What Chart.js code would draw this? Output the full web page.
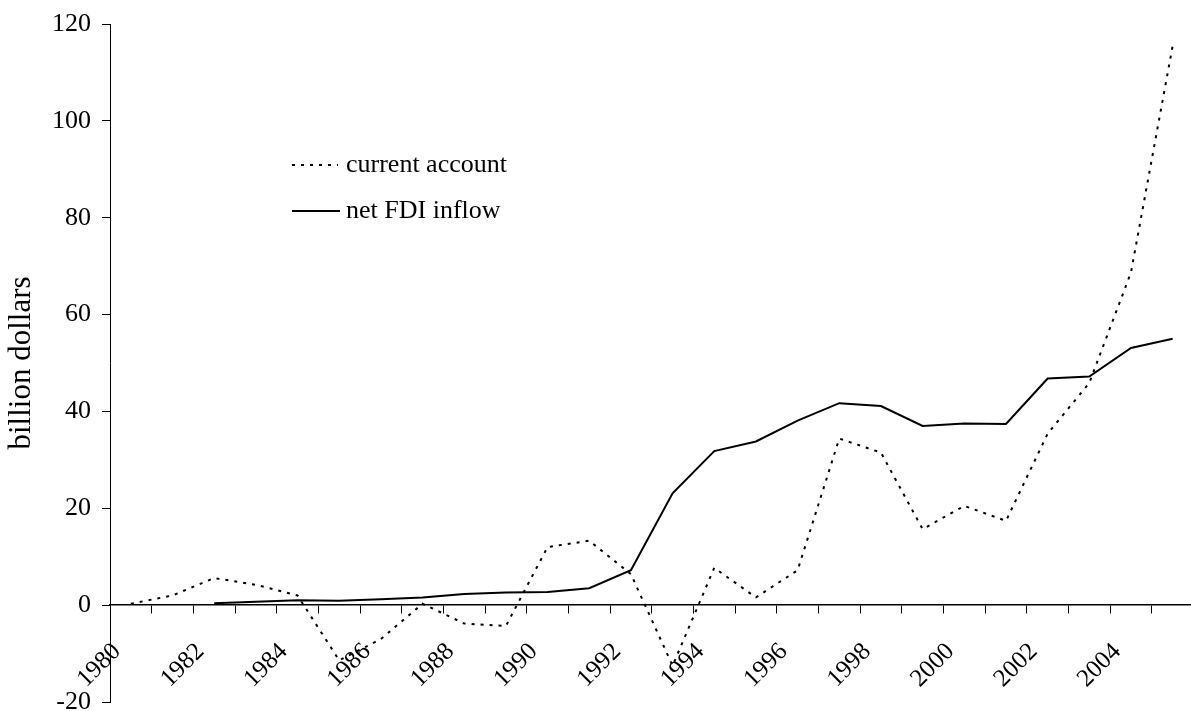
<!DOCTYPE html>
<html>
<head>
<meta charset="utf-8">
<script src="https://cdn.jsdelivr.net/npm/chart.js@4.4.1/dist/chart.umd.min.js"></script>
<style>
  html, body { margin: 0; padding: 0; background: #ffffff; }
  #wrap { width: 1191px; height: 711px; position: relative; }
</style>
</head>
<body>
<div id="wrap"><canvas id="c" width="1191" height="711"></canvas></div>
<script>
// ---- data ----
const years = [1980, 1981, 1982, 1983, 1984, 1985, 1986, 1987, 1988, 1989, 1990, 1991, 1992,
               1993, 1994, 1995, 1996, 1997, 1998, 1999, 2000, 2001, 2002, 2003, 2004, 2005];
const currentAccount = [0.3, 2.0, 5.6, 4.2, 2.0, -11.4, -7.0, 0.3, -3.8, -4.3, 12.0, 13.3, 6.4,
                        -12.5, 7.7, 1.6, 7.2, 34.4, 31.5, 15.7, 20.5, 17.4, 35.4, 45.9, 68.7, 115.5];
const netFDI = [null, null, 0.4, 0.7, 1.0, 0.9, 1.2, 1.6, 2.3, 2.6, 2.7, 3.5, 7.2,
                23.1, 31.8, 33.8, 38.1, 41.7, 41.1, 37.0, 37.5, 37.4, 46.8, 47.2, 53.1, 55.0];
const seriesLabels = ['current account', 'net FDI inflow'];
const yTicks = [-20, 0, 20, 40, 60, 80, 100, 120];
const yTitle = 'billion dollars';

const FONT = "'Liberation Serif', 'Times New Roman', serif";

// points sit in the middle of each year's interval
const toPts = arr => years.map((yr, i) => ({ x: yr + 0.5, y: arr[i] }));

const legendPlugin = {
  id: 'inlineLegend',
  afterDatasetsDraw(chart) {
    const ctx = chart.ctx;
    const items = [
      { y: 165, dash: [3, 6], width: 2, x1: 292, x2: 338, label: chart.data.datasets[0].label },
      { y: 211, dash: [], width: 2, x1: 292, x2: 340, label: chart.data.datasets[1].label }
    ];
    ctx.save();
    items.forEach(it => {
      ctx.beginPath();
      ctx.setLineDash(it.dash);
      ctx.lineWidth = it.width;
      ctx.strokeStyle = '#000';
      ctx.moveTo(it.x1, it.y);
      ctx.lineTo(it.x2, it.y);
      ctx.stroke();
      ctx.setLineDash([]);
      ctx.fillStyle = '#000';
      ctx.font = "26px " + FONT;
      ctx.textBaseline = 'middle';
      ctx.textAlign = 'left';
      ctx.fillText(it.label, 346, it.y);
    });
    ctx.restore();
  }
};

new Chart(document.getElementById('c'), {
  type: 'line',
  data: {
    datasets: [
      {
        label: seriesLabels[0],
        data: toPts(currentAccount),
        borderColor: '#000',
        borderWidth: 2,
        borderDash: [3, 6],
        pointRadius: 0,
        tension: 0,
        fill: false
      },
      {
        label: seriesLabels[1],
        data: toPts(netFDI),
        borderColor: '#000',
        borderWidth: 2,
        pointRadius: 0,
        tension: 0,
        spanGaps: false,
        fill: false
      }
    ]
  },
  options: {
    responsive: false,
    animation: false,
    devicePixelRatio: 1,
    layout: { padding: { top: 24, right: 0, bottom: 9, left: 0 } },
    plugins: {
      legend: { display: false },
      tooltip: { enabled: false }
    },
    scales: {
      x: {
        type: 'linear',
        position: { y: 0 },
        min: years[0],
        max: years[years.length - 1] + 0.94,
        afterFit: s => { s.height = 0; s.paddingLeft = 0; s.paddingRight = 0; },
        grid: { display: true, drawOnChartArea: false, drawTicks: true, tickLength: 8, color: '#000', lineWidth: 1 },
        border: { display: true, color: '#000', width: 1.5 },
        ticks: {
          stepSize: 1,
          includeBounds: false,
          autoSkip: false,
          minRotation: 45,
          maxRotation: 45,
          padding: 24,
          labelOffset: 7,
          color: '#000',
          font: { family: FONT, size: 25 },
          callback: v => (v % 2 === 0 && v <= 2004) ? String(v) : ''
        }
      },
      y: {
        min: yTicks[0],
        max: yTicks[yTicks.length - 1],
        afterFit: s => { s.width = 110; s.paddingTop = 0; s.paddingBottom = 0; },
        afterBuildTicks: s => { s.ticks = yTicks.map(v => ({ value: v })); },
        grid: { display: true, drawOnChartArea: false, drawTicks: true, tickLength: 8, color: '#000', lineWidth: 1 },
        border: { display: true, color: '#000', width: 1 },
        title: {
          display: true,
          text: yTitle,
          color: '#000',
          font: { family: FONT, size: 31 },
          padding: { top: 3, bottom: 0 }
        },
        ticks: {
          color: '#000',
          padding: 11,
          font: { family: FONT, size: 26 }
        }
      }
    }
  },
  plugins: [legendPlugin]
});
</script>
</body>
</html>
